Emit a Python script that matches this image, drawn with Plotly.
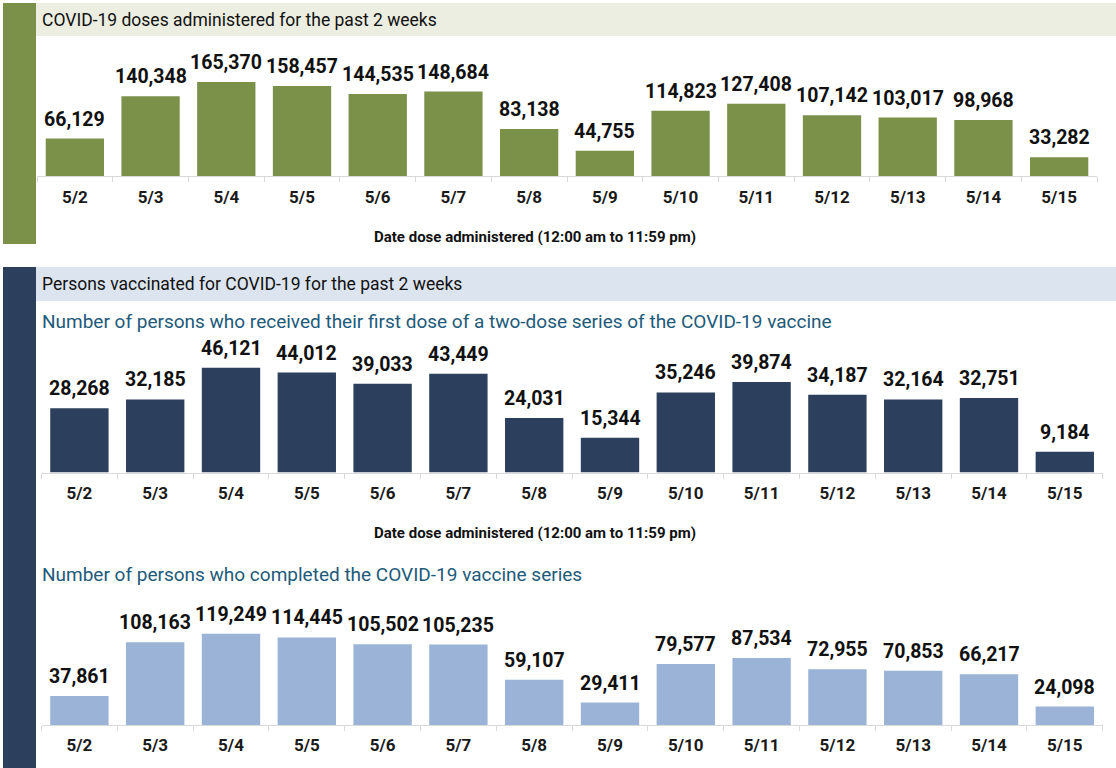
import plotly.graph_objects as go

dates = ["5/2", "5/3", "5/4", "5/5", "5/6", "5/7", "5/8", "5/9", "5/10", "5/11", "5/12", "5/13", "5/14", "5/15"]
doses = [66129, 140348, 165370, 158457, 144535, 148684, 83138, 44755, 114823, 127408, 107142, 103017, 98968, 33282]
first_dose = [28268, 32185, 46121, 44012, 39033, 43449, 24031, 15344, 35246, 39874, 34187, 32164, 32751, 9184]
completed = [37861, 108163, 119249, 114445, 105502, 105235, 59107, 29411, 79577, 87534, 72955, 70853, 66217, 24098]

title1 = "COVID-19 doses administered for the past 2 weeks"
title2 = "Persons vaccinated for COVID-19 for the past 2 weeks"
sub1 = "Number of persons who received their first dose of a two-dose series of the COVID-19 vaccine"
sub2 = "Number of persons who completed the COVID-19 vaccine series"
xtitle = "Date dose administered (12:00 am to 11:59 pm)"

W, H = 1116, 768
GREEN = "#7B9049"
NAVY = "#2C3F5D"
LIGHTBLUE = "#9AB3D6"
LABEL_FONT = "Roboto"
TITLE_FONT = "Roboto"


def px(x):
    return x / W


def py(y):
    return 1 - y / H


fig = go.Figure()

series = [
    (doses, GREEN, "x", "y"),
    (first_dose, NAVY, "x2", "y2"),
    (completed, LIGHTBLUE, "x3", "y3"),
]
annotations = []
for vals, col, xa, ya in series:
    fig.add_trace(go.Bar(
        x=dates, y=vals, xaxis=xa, yaxis=ya,
        marker=dict(color=col, line=dict(width=0)),
        cliponaxis=False, showlegend=False, hoverinfo="skip",
    ))
    for d, v in zip(dates, vals):
        annotations.append(dict(
            text=f"{v:,}", x=d, y=v, xref=xa, yref=ya,
            xanchor="center", yanchor="bottom", yshift=6, showarrow=False,
            font=dict(family=LABEL_FONT, size=19.5, color="#111111", weight="bold"),
        ))

# geometry: (x0, x1, baseline, top, range max)
geo = [
    (37, 1097, 176.3, 40, (176.3 - 40) / 0.000570),
    (41.5, 1102.7, 472.5, 330, (472.5 - 330) / 0.002272),
    (41.5, 1102.7, 725, 600, (725 - 600) / 0.000765),
]

layout_axes = {}
for i, (x0, x1, base, top, rmax) in enumerate(geo):
    s = "" if i == 0 else str(i + 1)
    layout_axes["xaxis" + s] = dict(
        domain=[px(x0), px(x1)], anchor="y" + s, type="category",
        range=[-0.5, 13.5], showline=True, linecolor="#D9D9D9", linewidth=1,
        ticks="outside", ticklen=5, tickcolor="#D9D9D9", tickson="boundaries",
        tickfont=dict(family=LABEL_FONT, size=17, color="#1a1a1a", weight="bold"),
        ticklabelstandoff=5, showgrid=False, zeroline=False, fixedrange=True,
    )
    layout_axes["yaxis" + s] = dict(
        domain=[py(base), py(top)], anchor="x" + s, range=[0, rmax],
        visible=False, showgrid=False, zeroline=False, fixedrange=True,
    )

shapes = [
    # green side bar and title band
    dict(type="rect", xref="paper", yref="paper", x0=px(3), x1=px(36), y0=py(244), y1=py(3),
         fillcolor=GREEN, line=dict(width=0), layer="below"),
    dict(type="rect", xref="paper", yref="paper", x0=px(36), x1=px(1116), y0=py(36), y1=py(3),
         fillcolor="#EBEEE1", line=dict(width=0), layer="below"),
    # navy side bar and title band
    dict(type="rect", xref="paper", yref="paper", x0=px(3), x1=px(36), y0=py(768), y1=py(267),
         fillcolor=NAVY, line=dict(width=0), layer="below"),
    dict(type="rect", xref="paper", yref="paper", x0=px(36), x1=px(1116), y0=py(301), y1=py(267),
         fillcolor="#DCE5EF", line=dict(width=0), layer="below"),
]

texts = [
    dict(text=title1, x=px(40), y=py(19.5), xanchor="left", yanchor="middle",
         font=dict(family=TITLE_FONT, size=17.5, color="#111111")),
    dict(text=title2, x=px(40), y=py(284.5), xanchor="left", yanchor="middle",
         font=dict(family=TITLE_FONT, size=17.5, color="#111111")),
    dict(text=sub1, x=px(40), y=py(321), xanchor="left", yanchor="middle",
         font=dict(family=TITLE_FONT, size=19, color="#215A7A")),
    dict(text=sub2, x=px(40), y=py(574), xanchor="left", yanchor="middle",
         font=dict(family=TITLE_FONT, size=19, color="#215A7A")),
    dict(text=xtitle, x=px(535), y=py(237), xanchor="center", yanchor="middle",
         font=dict(family=LABEL_FONT, size=15, color="#111111", weight="bold")),
    dict(text=xtitle, x=px(535), y=py(533), xanchor="center", yanchor="middle",
         font=dict(family=LABEL_FONT, size=15, color="#111111", weight="bold")),
]
for a in texts:
    a.update(xref="paper", yref="paper", showarrow=False)
annotations.extend(texts)

fig.update_layout(
    width=W, height=H, autosize=False,
    margin=dict(l=0, r=0, t=0, b=0),
    paper_bgcolor="white", plot_bgcolor="rgba(0,0,0,0)",
    bargap=0.23, shapes=shapes, annotations=annotations,
    **layout_axes,
)

fig.write_html(
    "out.html",
    config={"displayModeBar": False},
    post_script="document.body.style.margin='0';document.body.style.overflow='hidden';",
)
